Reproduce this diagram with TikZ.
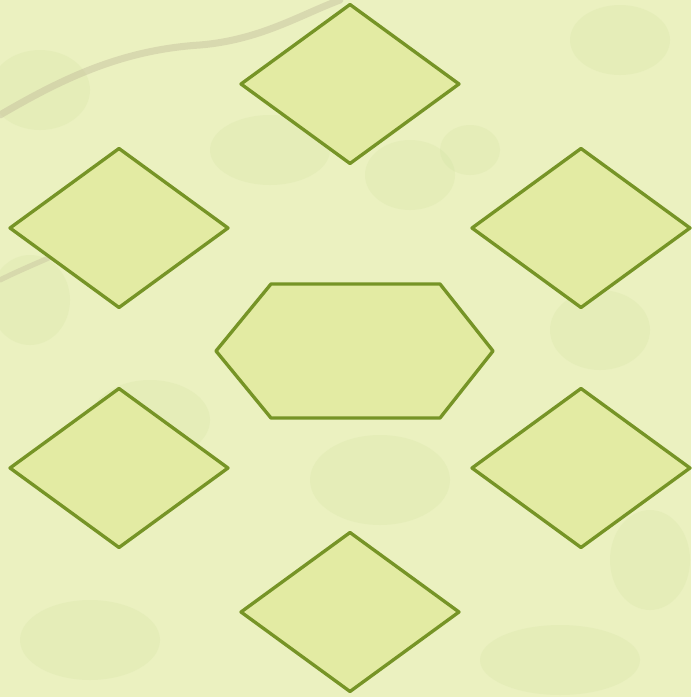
\documentclass[tikz,border=0pt]{standalone}
\usepackage{tikz}
\usetikzlibrary{shapes.geometric}

\definecolor{leafbg}{RGB}{235,241,192}
\definecolor{leafblot}{RGB}{195,218,145}
\definecolor{twig}{RGB}{195,188,155}
\definecolor{tilefill}{RGB}{227,235,163}
\definecolor{tileline}{RGB}{118,148,38}

\tikzset{
  tile/.style={diamond, draw=tileline, fill=tilefill, line width=1.9pt,
    line join=round, minimum width=4.36cm, minimum height=3.18cm,
    inner sep=0pt, outer sep=0pt},
  hexline/.style={draw=tileline, fill=tilefill, line width=1.9pt, line join=round}
}

\begin{document}
\begin{tikzpicture}[x=0.02cm, y=-0.02cm]
  % ------------------------------------------------------------------ backdrop
  \fill[leafbg] (0,0) rectangle (691,697);
  \useasboundingbox (0,0) rectangle (691,697);
  \foreach \bx/\by/\rx/\ry in {40/90/50/40, 270/150/60/35, 410/175/45/35, 470/150/30/25,
      620/40/50/35, 30/300/40/45, 150/420/60/40, 600/330/50/40, 380/480/70/45,
      90/640/70/40, 560/660/80/35, 650/560/40/50} {
    \fill[leafblot, opacity=0.15] (\bx,\by) ellipse [x radius=\rx, y radius=\ry];
  }
  \draw[twig, opacity=0.45, line width=4pt, line cap=round]
    (0,115) .. controls (60,80) and (120,50) .. (200,45) .. controls (260,40) and (300,15) .. (340,0);
  \draw[twig, opacity=0.4, line width=3pt, line cap=round]
    (0,280) .. controls (20,270) and (40,262) .. (55,255);
  % ------------------------------------------------------------------ tiles
  % name / centre x / centre y
  \foreach \name/\cx/\cy in {top/350/84, upleft/119/228, upright/581/228,
      lowleft/119/468, lowright/581/468, bottom/350/612} {
    \node[tile] (\name) at (\cx,\cy) {};
  }
  % ------------------------------------------------------------------ centre
  \draw[hexline] (216,351) -- (271,284) -- (440,284) -- (493,351)
    -- (440,418) -- (271,418) -- cycle;
  \coordinate (centre) at (354.5,351);
\end{tikzpicture}
\end{document}
